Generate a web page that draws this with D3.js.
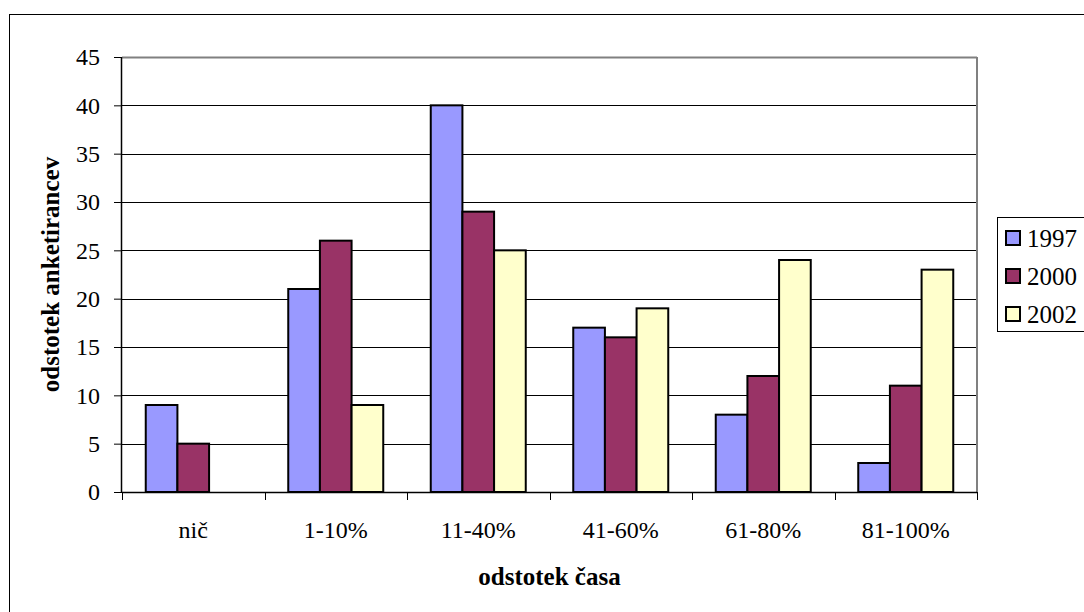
<!DOCTYPE html>
<html><head><meta charset="utf-8">
<script src="https://cdn.jsdelivr.net/npm/d3@7"></script>
<style>body{margin:0;background:#fff}svg{display:block}</style>
</head><body>
<svg id="c" width="1084" height="612" font-family="Liberation Serif"></svg>
<script>
const categories = ["nič","1-10%","11-40%","41-60%","61-80%","81-100%"];
const seriesNames = ["1997","2000","2002"];
const v1997 = [9,21,40,17,8,3];
const v2000 = [5,26,29,16,12,11];
const v2002 = [0,9,25,19,24,23];
const colors = ["#9999ff","#993366","#ffffcc"];
const yTicks = [0,5,10,15,20,25,30,35,40,45];
const values = [v1997,v2000,v2002];

const FONT = "Liberation Serif";
const svg = d3.select("#c");
const L=122, R=977, T=57, B=492;

svg.append("rect").attr("x",9.5).attr("y",14.5).attr("width",1100).attr("height",700)
  .attr("fill","#fff").attr("stroke","#000").attr("stroke-width",1);

const x = d3.scaleBand().domain(categories).range([L,R]).paddingInner(0).paddingOuter(0);
const xi = d3.scaleBand().domain(seriesNames).range([0,x.bandwidth()]).paddingInner(0).paddingOuter(0.75);
const y = d3.scaleLinear().domain([0,45]).range([B,T]);

// grid
svg.append("g").selectAll("line").data(yTicks.filter(t=>t>0 && t<45)).join("line")
  .attr("x1",L).attr("x2",R).attr("y1",d=>Math.round(y(d))+0.5).attr("y2",d=>Math.round(y(d))+0.5)
  .attr("stroke","#000").attr("stroke-width",1);
// top & right border gray
svg.append("line").attr("x1",L).attr("x2",R).attr("y1",T+0.5).attr("y2",T+0.5).attr("stroke","#808080").attr("stroke-width",2);
svg.append("line").attr("x1",R).attr("x2",R).attr("y1",T).attr("y2",B).attr("stroke","#808080").attr("stroke-width",2);

// bars
seriesNames.forEach((s,si)=>{
  svg.append("g").selectAll("rect").data(categories.map((c,i)=>({c,v:values[si][i]})).filter(d=>d.v>0)).join("rect")
    .attr("x",d=>x(d.c)+xi(s))
    .attr("y",d=>y(d.v))
    .attr("width",xi.bandwidth())
    .attr("height",d=>B-y(d.v))
    .attr("fill",colors[si]).attr("stroke","#000").attr("stroke-width",2);
});

// y axis
const ya = svg.append("g").attr("transform",`translate(${L},0)`)
  .call(d3.axisLeft(y).tickValues(yTicks).tickSize(8).tickPadding(14));
ya.attr("font-family",FONT);
ya.select(".domain").attr("stroke","#000").attr("stroke-width",1.5).attr("d",`M-0.5,${T}V${B}`);
ya.selectAll(".tick line").attr("stroke","#000");
ya.selectAll("text").attr("font-size",24).attr("fill","#000").attr("font-family",FONT);

// x axis
const xa = svg.append("g").attr("transform",`translate(0,${B})`)
  .call(d3.axisBottom(x).tickSize(0).tickPadding(29));
xa.attr("font-family",FONT);
xa.select(".domain").attr("stroke","#000").attr("stroke-width",1.5).attr("d",`M${L},0.5H${R}`);
xa.selectAll("text").attr("font-size",24).attr("fill","#000").attr("font-family",FONT);
svg.append("g").selectAll("line").data(d3.range(categories.length+1)).join("line")
  .attr("x1",i=>Math.round(L+i*x.step())+0.5).attr("x2",i=>Math.round(L+i*x.step())+0.5)
  .attr("y1",B).attr("y2",B+8).attr("stroke","#000").attr("stroke-width",1);

// titles
svg.append("text").attr("x",(L+R)/2).attr("y",585).attr("text-anchor","middle")
  .attr("font-family",FONT).attr("font-size",25).attr("font-weight","bold").text("odstotek časa");
svg.append("text").attr("transform",`translate(59,${(T+B)/2}) rotate(-90)`).attr("text-anchor","middle")
  .attr("font-family",FONT).attr("font-size",25).attr("font-weight","bold").text("odstotek anketirancev");

// legend
const lg = svg.append("g");
lg.append("rect").attr("x",997.5).attr("y",217.5).attr("width",100).attr("height",114)
  .attr("fill","#fff").attr("stroke","#000").attr("stroke-width",1);
seriesNames.forEach((s,i)=>{
  const cy = 238 + i*38;
  lg.append("rect").attr("x",1006).attr("y",cy-7).attr("width",14).attr("height",14)
    .attr("fill",colors[i]).attr("stroke","#000").attr("stroke-width",2);
  lg.append("text").attr("x",1027).attr("y",cy+8.5).attr("font-family",FONT).attr("font-size",25).text(s);
});
</script>
</body></html>
